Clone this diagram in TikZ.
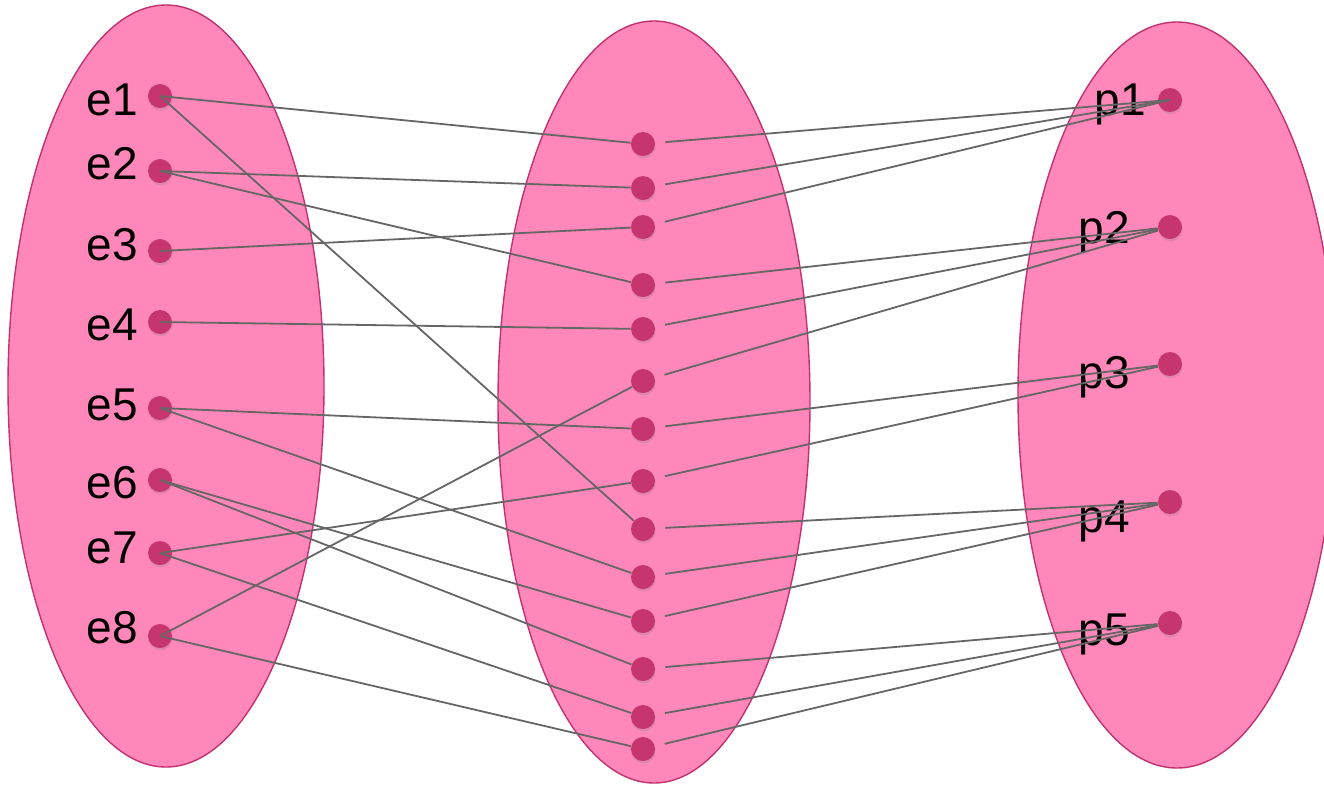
\documentclass[tikz,border=0pt]{standalone}
\usepackage{fontspec}
\setmainfont{Liberation Sans}
\usetikzlibrary{shadows}
\definecolor{setpink}{HTML}{FF87B9}
\definecolor{setedge}{HTML}{C2326F}
\definecolor{dotred}{HTML}{C6356E}
\definecolor{linkgray}{HTML}{666666}
\tikzset{
  setoval/.style={fill=setpink, draw=setedge, line width=0.7pt},
  dot/.style={circle, fill=dotred, inner sep=0pt, minimum size=12pt,
    drop shadow={shadow xshift=0.3pt, shadow yshift=-1.2pt, opacity=0.25}},
  lbl/.style={anchor=base east, inner sep=0pt, font=\fontsize{23}{26}\selectfont},
  link/.style={draw=linkgray, line width=0.9pt},
}
\begin{document}
\begin{tikzpicture}[x=0.5pt, y=-0.5pt]
  \useasboundingbox (0,0) rectangle (1324,784);
  \clip (0,0) rectangle (1324,784);
  \draw[setoval] (166,386) ellipse (158 and 381);
  \draw[setoval] (654,402) ellipse (156 and 381);
  \draw[setoval] (1177,395) ellipse (159 and 373);

  \foreach \i/\y/\b in {1/96/115, 2/171/179, 3/251/260, 4/322/340,
                        5/408/420, 6/480/498, 7/553/563, 8/636/643} {
    \node[dot] (e\i) at (160,\y) {};
    \node[lbl] (le\i) at (138,\b) {e\i};
  }
  \foreach \i/\y in {1/144, 2/188, 3/227, 4/285, 5/329, 6/381, 7/429,
                     8/481, 9/529, 10/577, 11/621, 12/669, 13/717, 14/749}
    \node[dot] (m\i) at (643,\y) {};
  \foreach \i/\y/\b/\r in {1/100/115/1146, 2/227/243/1130, 3/364/388/1130,
                           4/502/532/1130, 5/623/645/1130} {
    \node[dot] (p\i) at (1170,\y) {};
    \node[lbl] (lp\i) at (\r,\b) {p\i};
  }

  \foreach \a/\b in {e1/m1, e1/m9, e2/m2, e2/m4, e3/m3, e4/m5, e5/m7,
                     e5/m10, e6/m11, e6/m12, e7/m8, e7/m13, e8/m6, e8/m14}
    \draw[link] (\a.center) -- (\b);
  \foreach \a in {m1, m2, m3}
    \draw[link, shorten <=5pt] (\a) -- (p1.center);
  \foreach \a/\b in {m4/p2, m5/p2, m6/p2, m7/p3, m8/p3, m9/p4, m10/p4,
                     m11/p4, m12/p5, m13/p5, m14/p5}
    \draw[link, shorten <=5pt] (\a) -- (\b);
\end{tikzpicture}
\end{document}
